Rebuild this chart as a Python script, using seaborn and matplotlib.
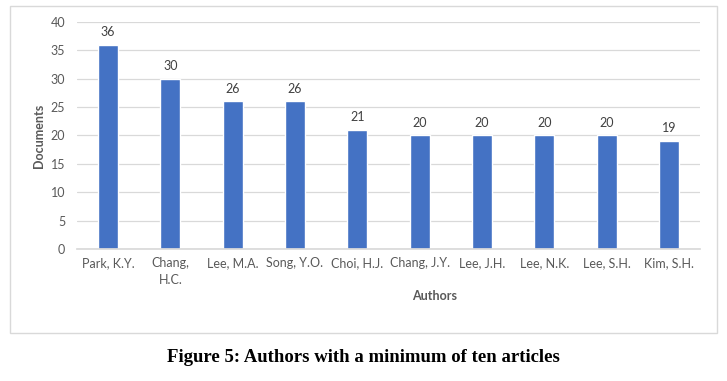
import matplotlib
matplotlib.use("Agg")
import matplotlib.pyplot as plt
import seaborn as sns
import pandas as pd
from matplotlib.patches import Rectangle

# data
authors = ["Park, K.Y.", "Chang,\nH.C.", "Lee, M.A.", "Song, Y.O.", "Choi, H.J.",
           "Chang, J.Y.", "Lee, J.H.", "Lee, N.K.", "Lee, S.H.", "Kim, S.H."]
documents = [36, 30, 26, 26, 21, 20, 20, 20, 20, 19]
y_ticks = [0, 5, 10, 15, 20, 25, 30, 35, 40]

df = pd.DataFrame({"Authors": authors, "Documents": documents})

sns.set_theme(style="white")
plt.rcParams["font.family"] = ["Lato", "DejaVu Sans"]

W, H = 727, 381
fig = plt.figure(figsize=(W / 100, H / 100), dpi=100)

# outer chart frame
fig.patches.append(Rectangle((10 / W, 1 - 333 / H), 707 / W, 327 / H,
                             transform=fig.transFigure, fill=False,
                             edgecolor="#D9D9D9", linewidth=1))

ax = fig.add_axes([77 / W, 1 - 249 / H, 623 / W, 227 / H])
sns.barplot(data=df, x="Authors", y="Documents", color="#4472C4",
            width=0.32, saturation=1, ax=ax)

ax.set_ylim(0, 40)
ax.set_yticks(y_ticks)
ax.yaxis.grid(True, color="#D9D9D9", linewidth=0.9)
ax.set_axisbelow(True)
for side in ["top", "right", "left"]:
    ax.spines[side].set_visible(False)
ax.spines["bottom"].set_color("#D9D9D9")
ax.tick_params(axis="both", length=0, labelsize=9, labelcolor="#595959")
ax.tick_params(axis="x", pad=6)
ax.tick_params(axis="y", pad=8.5)
for lbl in ax.get_xticklabels():
    lbl.set_linespacing(1.5)

# data labels
for i, v in enumerate(documents):
    ax.annotate(str(v), (i, v), xytext=(0, 5), textcoords="offset points",
                ha="center", va="bottom", fontsize=9, color="#404040")

ax.set_xlabel("")
ax.set_ylabel("Documents", fontsize=9, fontweight="bold", color="#595959", labelpad=4)
fig.text(435 / W, 1 - 296 / H, "Authors", ha="center", va="center",
         fontsize=9, fontweight="bold", color="#595959")

fig.text(363 / W, 1 - 358 / H, "Figure 5: Authors with a minimum of ten articles",
         ha="center", va="center", fontsize=13.5, fontweight="bold",
         family=["Liberation Serif", "DejaVu Serif"], color="black")

fig.savefig("out.png", dpi=100, facecolor="white")
